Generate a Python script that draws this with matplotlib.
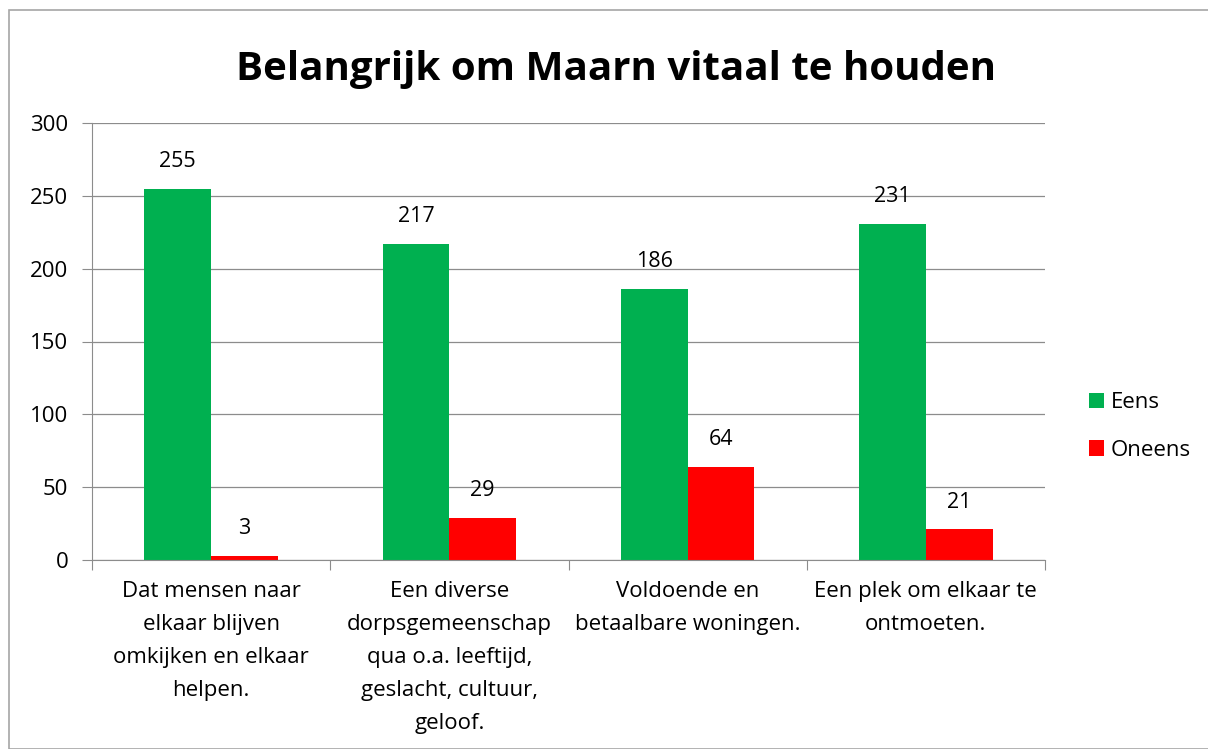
import matplotlib.pyplot as plt
import numpy as np
from matplotlib.patches import Rectangle

plt.rcParams['font.family'] = ['Open Sans', 'DejaVu Sans']

categories = ["Dat mensen naar\nelkaar blijven\nomkijken en elkaar\nhelpen.",
              "Een diverse\ndorpsgemeenschap\nqua o.a. leeftijd,\ngeslacht, cultuur,\ngeloof.",
              "Voldoende en\nbetaalbare woningen.",
              "Een plek om elkaar te\nontmoeten."]
eens = [255, 217, 186, 231]
oneens = [3, 29, 64, 21]
series_names = ["Eens", "Oneens"]
colors = ["#00B050", "#FF0000"]

fig = plt.figure(figsize=(12.08, 7.49), dpi=100)
fig.patches.append(Rectangle((9 / 1208, 0), 1.2, (749 - 10) / 749, transform=fig.transFigure,
                             fill=False, edgecolor="#A6A6A6", linewidth=1.2))
ax = fig.add_axes([92 / 1208, 1 - 560 / 749, (1045 - 92) / 1208, (560 - 123) / 749])

x = np.arange(len(categories))
w = 0.28
b1 = ax.bar(x - w / 2, eens, w, color=colors[0], label=series_names[0])
b2 = ax.bar(x + w / 2, oneens, w, color=colors[1], label=series_names[1])
for bars in (b1, b2):
    ax.bar_label(bars, padding=12, fontsize=15.5)

ax.set_xlim(-0.5, len(categories) - 0.5)
ax.set_ylim(0, 300)
ax.set_yticks(range(0, 301, 50))
ax.yaxis.grid(True, color="#8C8C8C", linewidth=0.9)
ax.set_axisbelow(True)
for s in ("top", "right"):
    ax.spines[s].set_visible(False)
for s in ("left", "bottom"):
    ax.spines[s].set_color("#8C8C8C")

ax.set_xticks(np.arange(-0.5, len(categories), 1))
ax.set_xticklabels([])
ax.set_xticks(x, minor=True)
ax.set_xticklabels(categories, minor=True, fontsize=16, linespacing=1.75)
ax.tick_params(axis="x", which="major", length=7, color="#8C8C8C")
ax.tick_params(axis="x", which="minor", length=0, pad=15)
ax.tick_params(axis="y", length=7, color="#8C8C8C", labelsize=16, pad=10)

ax.set_title("Belangrijk om Maarn vitaal te houden", fontsize=29, fontweight="bold",
             pad=31, x=0.55)
ax.legend(loc="center left", bbox_to_anchor=(1.025, 0.305), frameon=False, fontsize=16,
          handlelength=0.7, handleheight=0.7, handletextpad=0.3, labelspacing=1.2)

fig.savefig("out.png", dpi=100)
